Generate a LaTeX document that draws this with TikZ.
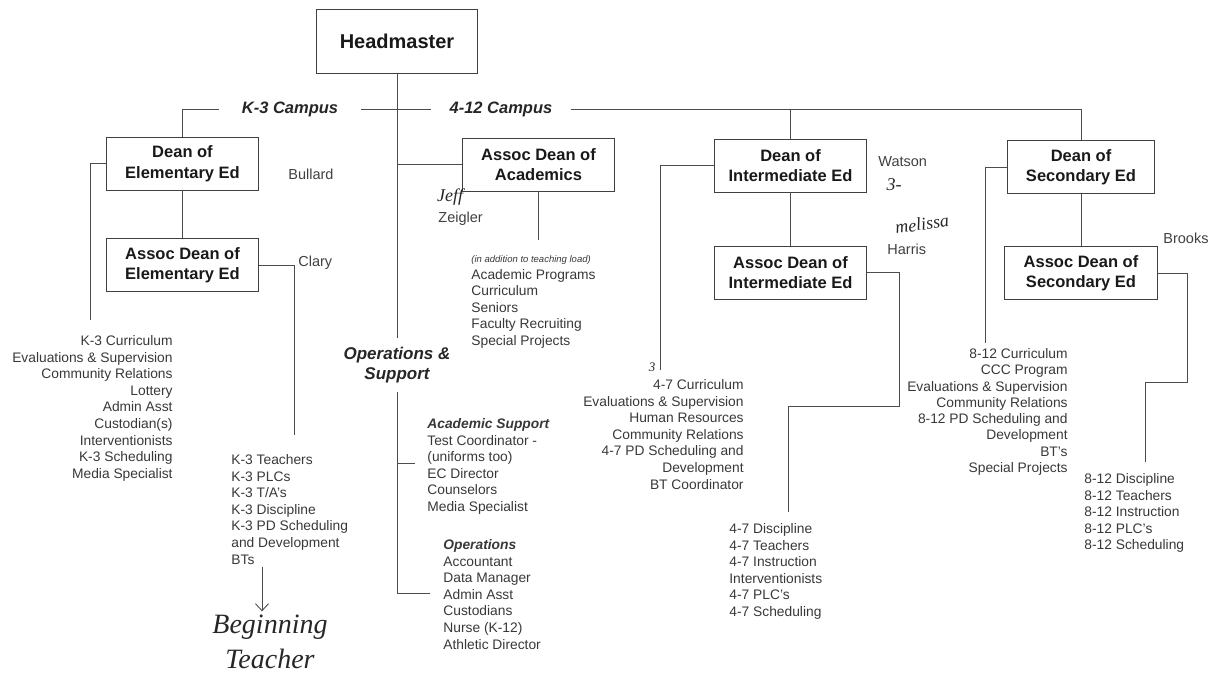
\documentclass[tikz,border=0pt]{standalone}
\usepackage{fontspec}
\setmainfont{Liberation Sans}
\newfontfamily\handfont{Liberation Serif}
\usetikzlibrary{arrows.meta}

\begin{document}
\begin{tikzpicture}[x=1pt,y=-1pt,thick,>={Straight Barb[length=7pt,width=13pt]},
  dean/.style={draw=black!75,line width=0.9pt,rectangle,minimum width=152pt,minimum height=53pt,align=center,font=\fontsize{16.5}{20.5}\selectfont\bfseries,text=black!90},
  campus/.style={font=\fontsize{16.5}{20}\selectfont\bfseries\itshape,text=black!85},
  who/.style={font=\fontsize{14.5}{17}\selectfont,text=black!75,inner sep=1pt},
  duties/.style={font=\fontsize{13.8}{16.6}\selectfont,text=black!78,inner sep=0pt},
  hand/.style={font=\handfont\itshape\fontsize{18}{22}\selectfont,text=black!85},
  wire/.style={draw=black!70,line width=0.9pt}]
\useasboundingbox (0,0) rectangle (1214,679);

        \node[dean,minimum width=161pt,minimum height=64pt,font=\fontsize{20}{24}\selectfont\bfseries] (head) at (397,41) {Headmaster};
        \node[campus,inner xsep=22.5pt] (cK3) at (290,109.5) {K-3 Campus};
        \node[campus,inner xsep=18pt] (c412) at (501,109.5) {4-12 Campus};

        \node[dean] (dElem) at (182.5,163.5) {Dean of\\Elementary Ed};
         \node[dean,below of=dElem,node distance=101.5pt] (aElem) {Assoc Dean of\\Elementary Ed};
        \node[dean] (acad) at (538.5,164.5) {Assoc Dean of\\Academics};
        \node[dean] (dInt) at (790.5,165.5) {Dean of\\Intermediate Ed};
         \node[dean,below of=dInt,node distance=107pt] (aInt) {Assoc Dean of\\Intermediate Ed};
        \node[dean,minimum width=147pt] (dSec) at (1081,167) {Dean of\\Secondary Ed};
         \node[dean,minimum width=153pt,below of=dSec,node distance=106pt] (aSec) {Assoc Dean of\\Secondary Ed};

        \node[campus,font=\fontsize{17}{20}\selectfont\bfseries\itshape,align=center,inner ysep=9pt] (ops) at (397,365) {Operations \&\\Support};

        \node[who,anchor=west] (bullard) at (287,174) {Bullard};
        \node[who,anchor=west] (clary) at (297,263) {Clary};
        \node[who,anchor=west] (zeigler) at (437,219) {Zeigler};
        \node[who,anchor=west] (watson) at (877,162) {Watson};
        \node[who,anchor=west] (harris) at (886,249) {Harris};
        \node[who,anchor=west] (brooks) at (1162,238) {Brooks};

        \node[hand] (jeff) at (450,197) {Jeff};
        \node[hand] (threeA) at (894,185) {3-};
        \node[hand,rotate=8] (melissa) at (922,224) {melissa};
        \node[hand,font=\handfont\itshape\fontsize{13}{15}\selectfont] (threeB) at (652,367) {3};
        \node[hand,font=\handfont\itshape\fontsize{28}{35}\selectfont,align=center] (bt) at (270,642) {Beginning\\Teacher};

        \node[duties,anchor=north east,align=right] (k3List) at (173,335) {K-3 Curriculum\\Evaluations \& Supervision\\Community Relations\\Lottery\\Admin Asst\\Custodian(s)\\Interventionists\\K-3 Scheduling\\Media Specialist};
        \node[duties,anchor=north west,align=left] (k3tList) at (231,454) {K-3 Teachers\\K-3 PLCs\\K-3 T/A's\\K-3 Discipline\\K-3 PD Scheduling\\and Development\\BTs};
        \node[duties,anchor=west,font=\fontsize{9.5}{11}\selectfont\itshape] (acadNote) at (471,260) {(in addition to teaching load)};
        \node[duties,anchor=north west,align=left,font=\fontsize{13.8}{16.5}\selectfont] (acadList) at (471,269) {Academic Programs\\Curriculum\\Seniors\\Faculty Recruiting\\Special Projects};
        \node[duties,anchor=north west,align=left] (asList) at (427,418) {\textbf{\textit{Academic Support}}\\Test Coordinator -\\(uniforms too)\\EC Director\\Counselors\\Media Specialist};
        \node[duties,anchor=north west,align=left] (opList) at (443,539) {\textbf{\textit{Operations}}\\Accountant\\Data Manager\\Admin Asst\\Custodians\\Nurse (K-12)\\Athletic Director};
        \node[duties,anchor=north east,align=right] (intList) at (744,379) {4-7 Curriculum\\Evaluations \& Supervision\\Human Resources\\Community Relations\\4-7 PD Scheduling and\\Development\\BT Coordinator};
        \node[duties,anchor=north west,align=left] (intbList) at (729,523) {4-7 Discipline\\4-7 Teachers\\4-7 Instruction\\Interventionists\\4-7 PLC's\\4-7 Scheduling};
        \node[duties,anchor=north east,align=right,font=\fontsize{13.8}{16.3}\selectfont] (secList) at (1068,348) {8-12 Curriculum\\CCC Program\\Evaluations \& Supervision\\Community Relations\\8-12 PD Scheduling and\\Development\\BT's\\Special Projects};
        \node[duties,anchor=north west,align=left] (secbList) at (1084,473) {8-12 Discipline\\8-12 Teachers\\8-12 Instruction\\8-12 PLC's\\8-12 Scheduling};

        \coordinate (elemEnd) at (90,320);
        \coordinate (claryEnd) at (294,435);
        \coordinate (acadEnd) at (538,240);
        \coordinate (asTip) at (415,463);
        \coordinate (opTip) at (430,593);
        \coordinate (intEnd) at (660,370);
        \coordinate (intBend) at (899,406);
        \coordinate (intEndB) at (788,512);
        \coordinate (secEnd) at (985,343);
        \coordinate (secBend) at (1187,382);
        \coordinate (secEndB) at (1145,462);
        \coordinate (btTop) at (262,567);

        \draw[wire] (head) -- (ops);
        \draw[wire] (cK3.east) -- (c412.west);
        \draw[wire] (dElem.north) |- (cK3.west);
        \draw[wire] (c412.east) -| (dSec.north);
        \draw[wire] (dInt.north) -- (dInt.north |- c412.east);
        \draw[wire] (acad.west) -- (acad.west -| head.south);
        \draw[wire] (dElem) -- (aElem);
        \draw[wire] (dInt) -- (aInt);
        \draw[wire] (dSec) -- (aSec);
        \draw[wire] (dElem.west) -| (elemEnd);
        \draw[wire] (aElem.east) -| (claryEnd);
        \draw[wire] (acad.south) -- (acad.south |- acadEnd);
        \draw[wire] (ops.south) |- (opTip);
        \draw[wire] (asTip) -- (asTip -| ops.south);
        \draw[wire] (dInt.west) -| (intEnd);
        \draw[wire] (aInt.east) -| (intBend) -| (intEndB);
        \draw[wire] (dSec.west) -| (secEnd);
        \draw[wire] (aSec.east) -| (secBend) -| (secEndB);
        \draw[wire,->] (btTop) -- (btTop |- bt.north);

      \end{tikzpicture}
\end{document}
